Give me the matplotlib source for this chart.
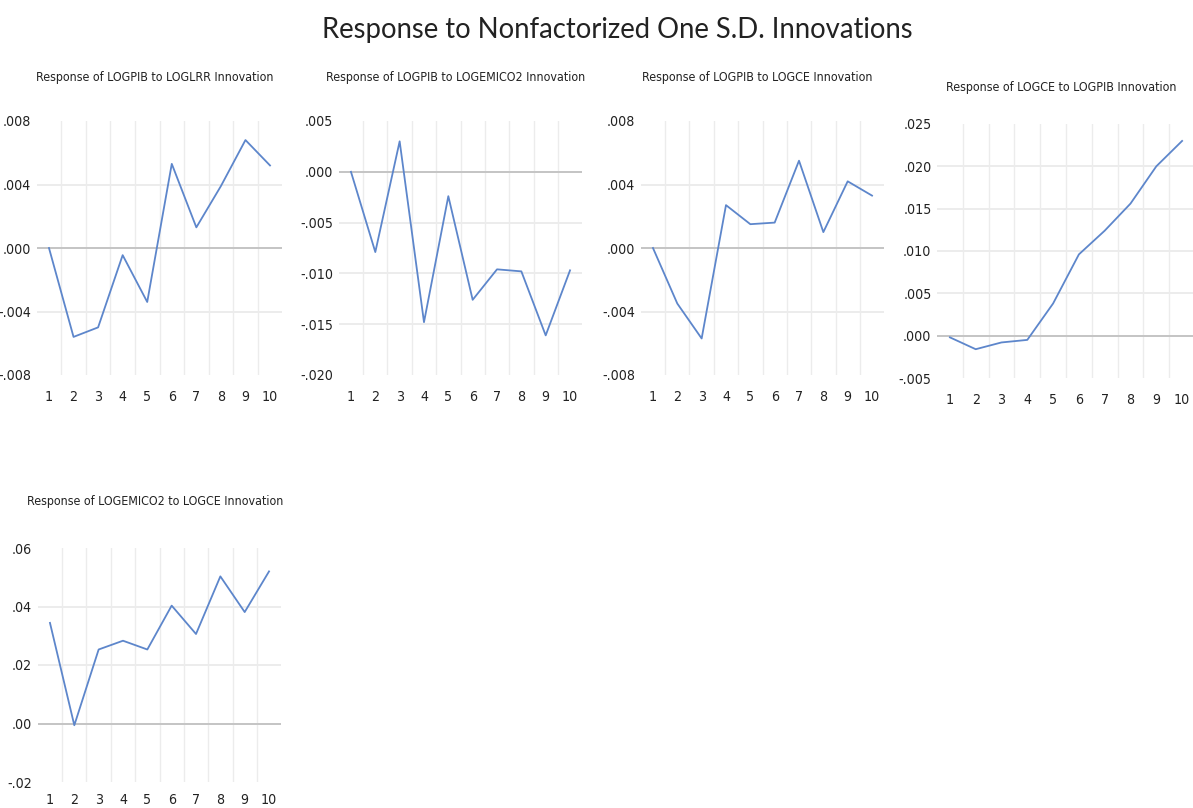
import matplotlib
matplotlib.use("Agg")
import matplotlib.pyplot as plt
from matplotlib import font_manager
from matplotlib.ticker import FixedLocator, FuncFormatter

# impulse responses over a 10 period horizon
periods = list(range(1, 11))
resp_pib_lrr = [0.0, -0.0056, -0.0050, -0.00045, -0.0034, 0.0053, 0.0013, 0.0039, 0.0068, 0.0052]
resp_pib_co2 = [0.0, -0.0079, 0.0030, -0.0148, -0.0024, -0.0126, -0.0096, -0.0098, -0.0161, -0.0097]
resp_pib_ce = [0.0, -0.0035, -0.0057, 0.0027, 0.0015, 0.0016, 0.0055, 0.0010, 0.0042, 0.0033]
resp_ce_pib = [-0.0002, -0.0016, -0.0008, -0.0005, 0.0038, 0.0096, 0.0124, 0.0156, 0.0200, 0.0230]
resp_co2_ce = [0.0344, -0.0006, 0.0253, 0.0283, 0.0253, 0.0403, 0.0306, 0.0503, 0.0381, 0.0520]

titles = [
    "Response of LOGPIB to LOGLRR Innovation",
    "Response of LOGPIB to LOGEMICO2 Innovation",
    "Response of LOGPIB to LOGCE Innovation",
    "Response of LOGCE to LOGPIB Innovation",
    "Response of LOGEMICO2 to LOGCE Innovation",
]
yticks = [
    [-0.008, -0.004, 0.0, 0.004, 0.008],
    [-0.020, -0.015, -0.010, -0.005, 0.0, 0.005],
    [-0.008, -0.004, 0.0, 0.004, 0.008],
    [-0.005, 0.0, 0.005, 0.010, 0.015, 0.020, 0.025],
    [-0.02, 0.0, 0.02, 0.04, 0.06],
]
ydecimals = [3, 3, 3, 3, 2]
series = [resp_pib_lrr, resp_pib_co2, resp_pib_ce, resp_ce_pib, resp_co2_ce]

W, H = 1193, 808
# panel boxes in pixels: left, top, right, bottom, title y
boxes = [
    (36.7, 121, 282.3, 375, 78),
    (338.8, 121, 582.2, 375, 78),
    (640.8, 121, 884.2, 375, 78),
    (937.0, 124, 1195.0, 378, 87),
    (37.8, 548, 281.2, 782, 502),
]

# use a condensed face when one is available, else shrink a regular one
cond = font_manager.FontProperties(family="DejaVu Sans", stretch="condensed")
cond_file = font_manager.findfont(cond, fallback_to_default=False)
if "Condensed" in cond_file:
    small_font = dict(family="DejaVu Sans", stretch="condensed")
    title_size, tick_size = 8.9, 10.2
else:
    small_font = dict(family="Liberation Sans")
    title_size, tick_size = 8.1, 8.8

line_col = "#5d86cb"
grid_col = "#ececec"
zero_col = "#c4c4c4"
text_col = "#222222"


def fmt_tick(decimals):
    def f(v, pos):
        s = f"{v:.{decimals}f}"
        return s.replace("0.", ".", 1)
    return f


fig = plt.figure(figsize=(W / 100, H / 100), dpi=100)
fig.text(617 / W, 1 - 30 / H, "Response to Nonfactorized One S.D. Innovations",
         ha="center", va="center", fontsize=19.8,
         family=["Lato", "DejaVu Sans"], color=text_col)

for i in range(5):
    l, t, r, b, ty = boxes[i]
    ax = fig.add_axes([l / W, 1 - b / H, (r - l) / W, (b - t) / H])
    ax.set_xlim(0.5, 10.5)
    ax.set_ylim(yticks[i][0], yticks[i][-1])
    for s in ax.spines.values():
        s.set_visible(False)

    # light grid between periods and at inner value ticks, darker zero line
    for xv in [p + 0.5 for p in periods[:-1]]:
        ax.axvline(xv, color=grid_col, lw=1.0, zorder=0)
    for yv in yticks[i][1:-1]:
        if yv == 0:
            ax.axhline(yv, color=zero_col, lw=1.4, zorder=1)
        else:
            ax.axhline(yv, color=grid_col, lw=1.4, zorder=0)

    ax.plot(periods, series[i], color=line_col, lw=1.3, zorder=3)

    ax.xaxis.set_major_locator(FixedLocator(periods))
    ax.yaxis.set_major_locator(FixedLocator(yticks[i]))
    ax.yaxis.set_major_formatter(FuncFormatter(fmt_tick(ydecimals[i])))
    ax.tick_params(axis="both", length=0, labelsize=tick_size, colors=text_col)
    ax.tick_params(axis="x", pad=11 if i < 4 else 8)
    ax.tick_params(axis="y", pad=4)
    for lab in ax.get_xticklabels() + ax.get_yticklabels():
        lab.set(**small_font)

    fig.text((l + r) / 2 / W - 0.004, 1 - ty / H, titles[i], ha="center",
             va="center", fontsize=title_size, color=text_col, **small_font)

fig.savefig("out.png", dpi=100, facecolor="white")
